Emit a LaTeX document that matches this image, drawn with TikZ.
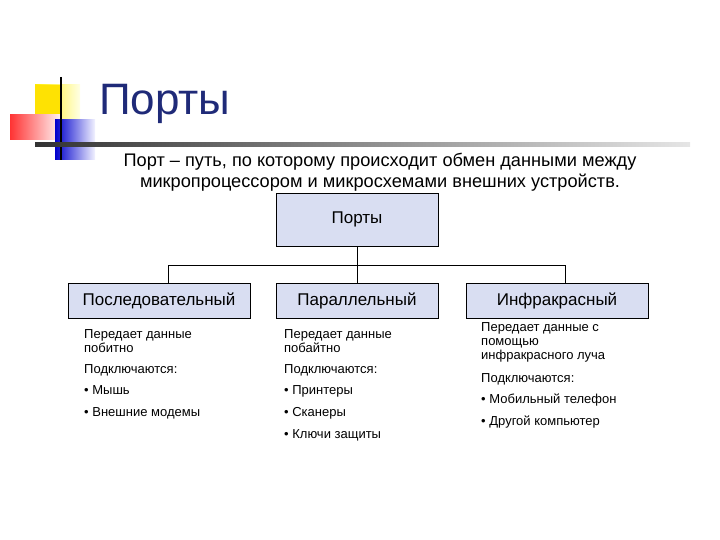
\documentclass[tikz,border=0pt]{standalone}
\usepackage{fontspec}
\setmainfont{Liberation Sans}
\begin{document}
\begin{tikzpicture}[x=1pt,y=-1pt,
  box/.style={draw=black,fill=boxc,inner sep=0pt,font=\fontsize{17}{20}\selectfont},
  small/.style={anchor=north west,align=left,font=\fontsize{13}{14}\selectfont,inner sep=0pt}]
\definecolor{boxc}{HTML}{D9DEF2}
\definecolor{titc}{HTML}{1F2A78}
\useasboundingbox (0,0) rectangle (720,540);
% decoration
\shade[left color=yellow!85!orange,right color=yellow!10] (35,85) rectangle (80,125);
\fill[yellow!85!orange] (35,85) rectangle (62,125);
\shade[left color=red!80,right color=red!5] (10,115) rectangle (60,140);
\shade[left color=blue!80!black,right color=blue!5] (55,120) rectangle (95,160);
\draw[line width=1.5pt] (61,77) -- (61,160);
\shade[left color=black!80,right color=black!10] (35,143) rectangle (690,147);
\node[anchor=west,text=titc,font=\fontsize{44}{48}\selectfont,inner sep=0pt] (title) at (99,104) {Порты};
\node[align=center,font=\fontsize{18.2}{21}\selectfont,inner sep=0pt] (def) at (380,172)
  {Порт – путь, по которому происходит обмен данными между\\микропроцессором и микросхемами внешних устройств.};
% tree
\node[box,minimum width=162,minimum height=53] (root) at (357,219.5) {Порты};
\node[box,minimum width=182,minimum height=35] (a) at (159,300.5) {Последовательный};
\node[box,minimum width=162,minimum height=35] (b) at (357,300.5) {Параллельный};
\node[box,minimum width=182,minimum height=35] (c) at (557,300.5) {Инфракрасный};
\coordinate (j) at (357,265);
\coordinate (jl) at (168,265);
\coordinate (jr) at (565,265);
\draw (root.south) -- (j);
\draw (a.north -| jl) -- (jl) -- (jr) -- (c.north -| jr);
\draw (j) -- (b.north);
\node[small] (a1) at (84,329) {Передает данные\\побитно};
\node[small] (a2) at (84,364) {Подключаются:};
\node[small] (a3) at (84,385) {• Мышь};
\node[small] (a4) at (84,407) {• Внешние модемы};
\node[small] (b1) at (284,329) {Передает данные\\побайтно};
\node[small] (b2) at (284,364) {Подключаются:};
\node[small] (b3) at (284,385) {• Принтеры};
\node[small] (b4) at (284,407) {• Сканеры};
\node[small] (b5) at (284,429) {• Ключи защиты};
\node[small] (c1) at (481,322) {Передает данные с\\помощью\\инфракрасного луча};
\node[small] (c2) at (481,373) {Подключаются:};
\node[small] (c3) at (481,394) {• Мобильный телефон};
\node[small] (c4) at (481,416) {• Другой компьютер};
\end{tikzpicture}
\end{document}
